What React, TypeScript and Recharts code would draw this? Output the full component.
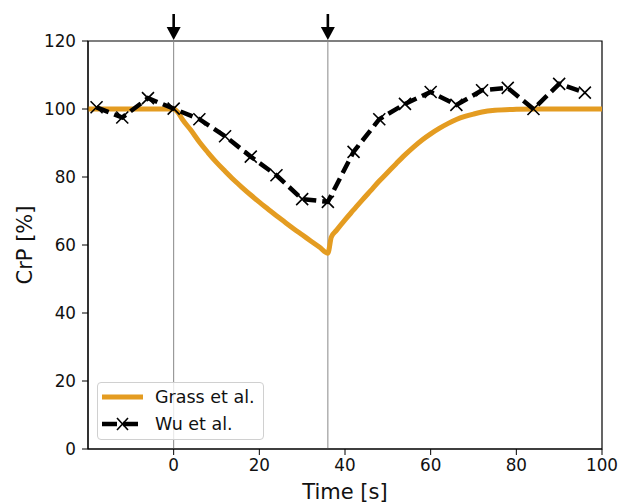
import { LineChart, Line, XAxis, YAxis, ReferenceLine, ReferenceArea } from "recharts"

// Wu et al. measured points (time in s, CrP in %)
const wuTime = [-18, -12, -6, 0, 6, 12, 18, 24, 30, 36, 42, 48, 54, 60, 66, 72, 78, 84, 90, 96]
const wuCrp = [100.5, 97.5, 103.2, 100.1, 97.0, 92.0, 86.0, 80.5, 73.5, 72.7, 87.4, 97.0, 101.5, 105.0, 101.2, 105.5, 106.2, 100.0, 107.4, 104.8]

// Grass et al. model curve
const grassTime = [-20, -10, 0, 1, 2, 4, 6, 8, 10, 12, 14, 16, 18, 20, 22, 24, 26, 28, 30, 32, 34, 36, 36.8, 38, 40, 42, 44, 46, 48, 50, 52, 54, 56, 58, 60, 62, 64, 66, 68, 70, 72, 75, 80, 85, 90, 100]
const grassCrp = [100, 100, 100, 99, 97, 93.8, 90.3, 87.2, 84.3, 81.7, 79.2, 76.9, 74.7, 72.6, 70.6, 68.6, 66.7, 64.8, 63.0, 61.2, 59.4, 57.6, 62.3, 64.3, 67.4, 70.3, 73.2, 76.0, 78.8, 81.4, 84.0, 86.5, 88.8, 90.9, 92.7, 94.3, 95.7, 96.9, 97.8, 98.5, 99.1, 99.6, 99.9, 100, 100, 100]

const xTicks = [0, 20, 40, 60, 80, 100]
const yTicks = [0, 20, 40, 60, 80, 100, 120]
const eventTimes = [0, 36]

const wuData = wuTime.map((t, i) => ({ t, v: wuCrp[i] }))
const grassData = grassTime.map((t, i) => ({ t, v: grassCrp[i] }))

const ORANGE = "#E49C21"
const FONT = "'DejaVu Sans', sans-serif"
const tickStyle = { fontFamily: FONT, fontSize: 16.8, fill: "#111" }

function cross(props: any) {
  const { cx, cy, index } = props
  if (cx == null || cy == null) return <g key={index} />
  const s = 6
  return (
    <path
      key={index}
      d={`M${cx - s},${cy - s}L${cx + s},${cy + s}M${cx - s},${cy + s}L${cx + s},${cy - s}`}
      stroke="#000"
      strokeWidth={1.6}
      fill="none"
    />
  )
}

function arrow(props: any) {
  const vb = props.viewBox || {}
  const x = vb.x
  const top = vb.y
  return (
    <g>
      <line x1={x} y1={top - 27} x2={x} y2={top - 12} stroke="#000" strokeWidth={2.6} />
      <path d={`M${x - 7},${top - 14}L${x + 7},${top - 14}L${x},${top - 1}Z`} fill="#000" />
    </g>
  )
}

function yTitle(props: any) {
  const vb = props.viewBox
  const cy = vb.y + vb.height / 2
  return (
    <text x={25} y={cy} transform={`rotate(-90 25 ${cy})`} textAnchor="middle" dominantBaseline="central"
      style={{ fontFamily: FONT, fontSize: 21, fill: "#111" }}>
      CrP [%]
    </text>
  )
}

function xTitle(props: any) {
  const vb = props.viewBox
  return (
    <text x={vb.x + vb.width / 2} y={499} textAnchor="middle"
      style={{ fontFamily: FONT, fontSize: 21, fill: "#111" }}>
      Time [s]
    </text>
  )
}

function LegendBox() {
  return (
    <div
      style={{
        position: "absolute",
        left: 97,
        top: 382,
        width: 167,
        height: 58,
        boxSizing: "border-box",
        border: "1px solid #d0d0d0",
        borderRadius: 4,
        background: "rgba(255,255,255,0.8)",
        fontFamily: FONT,
        fontSize: 17.5,
        color: "#111",
      }}
    >
      <svg width={167} height={58} style={{ position: "absolute", left: -1, top: -1 }}>
        <line x1={5} y1={15} x2={46} y2={15} stroke={ORANGE} strokeWidth={5} />
        <line x1={5} y1={42} x2={46} y2={42} stroke="#000" strokeWidth={4.5} strokeDasharray="15 6" />
        <path d="M20,36L31,48M20,48L31,36" stroke="#000" strokeWidth={1.6} />
      </svg>
      <div style={{ position: "absolute", left: 57, top: 3, lineHeight: "22px" }}>Grass et al.</div>
      <div style={{ position: "absolute", left: 57, top: 30, lineHeight: "22px" }}>Wu et al.</div>
    </div>
  )
}

export default function App() {
  return (
    <div style={{ position: "absolute", left: 0, top: 0, width: 620, height: 504, background: "#fff" }}>
      <LineChart width={620} height={504} margin={{ top: 41, right: 18, bottom: 0, left: 0 }}>
        <XAxis
          type="number"
          dataKey="t"
          domain={[-20, 100]}
          ticks={xTicks}
          allowDataOverflow
          height={55}
          tick={tickStyle}
          tickSize={6}
          tickMargin={4}
          stroke="#000"
          label={xTitle}
        />
        <YAxis
          type="number"
          domain={[0, 120]}
          ticks={yTicks}
          width={88}
          tick={tickStyle}
          tickSize={6}
          tickMargin={6}
          stroke="#000"
          label={yTitle}
        />
        {eventTimes.map((t) => (
          <ReferenceLine key={t} x={t} stroke="#888" strokeWidth={1} label={arrow} />
        ))}
        <Line
          data={grassData}
          dataKey="v"
          type="monotone"
          stroke={ORANGE}
          strokeWidth={5}
          dot={false}
          isAnimationActive={false}
        />
        <Line
          data={wuData}
          dataKey="v"
          type="linear"
          stroke="#000"
          strokeWidth={4.5}
          strokeDasharray="13 6"
          dot={cross}
          isAnimationActive={false}
        />
        <ReferenceArea x1={-20} x2={100} y1={0} y2={120} fill="none" stroke="#000" strokeWidth={1.2} />
      </LineChart>
      <LegendBox />
    </div>
  )
}
